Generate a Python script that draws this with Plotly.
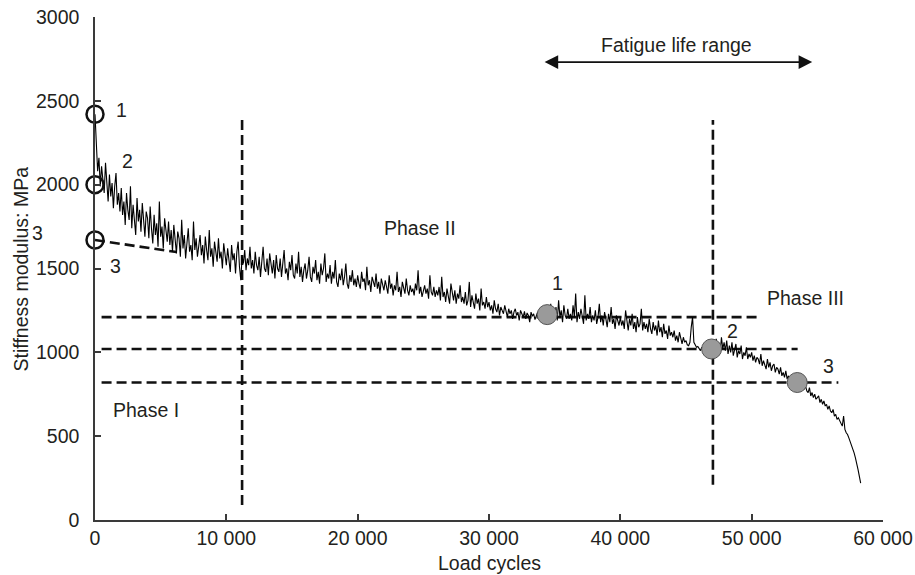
import plotly.graph_objects as go

# ---------------- data ----------------
# stiffness modulus (MPa) sampled every 100 load cycles, read off the picture
# (one row = 2000 load cycles)
stiffness = [
    2420, 2250, 2080, 2160, 1990, 2110, 2040, 1950, 2130, 1980, 1900, 2060, 1930, 2010, 1860, 1990, 2070, 1880, 1950, 1840,
    1980, 1820, 1900, 1760, 1950, 1850, 1790, 1990, 1740, 1880, 1810, 1700, 1920, 1780, 1850, 1720, 1890, 1760, 1690, 1840,
    1800, 1680, 1870, 1740, 1650, 1820, 1700, 1770, 1630, 1900, 1690, 1750, 1620, 1800, 1710, 1660, 1780, 1640, 1730, 1600,
    1760, 1650, 1590, 1720, 1680, 1570, 1790, 1620, 1700, 1560, 1660, 1740, 1600, 1640, 1550, 1780, 1610, 1680, 1570, 1650,
    1700, 1580, 1640, 1530, 1690, 1610, 1550, 1730, 1570, 1620, 1510, 1660, 1590, 1540, 1680, 1560, 1600, 1500, 1650, 1570,
    1520, 1620, 1560, 1480, 1640, 1550, 1590, 1470, 1600, 1660, 1510, 1430, 1570, 1530, 1610, 1490, 1560, 1520, 1630, 1500,
    1550, 1470, 1600, 1520, 1490, 1570, 1450, 1540, 1630, 1500, 1480, 1560, 1460, 1590, 1520, 1470, 1550, 1440, 1580, 1500,
    1480, 1560, 1450, 1520, 1610, 1470, 1500, 1430, 1540, 1490, 1580, 1460, 1440, 1530, 1470, 1600, 1450, 1510, 1420, 1490,
    1530, 1440, 1490, 1570, 1450, 1420, 1510, 1470, 1550, 1430, 1480, 1410, 1530, 1460, 1500, 1590, 1420, 1470, 1440, 1520,
    1410, 1480, 1440, 1550, 1420, 1390, 1470, 1430, 1500, 1400, 1450, 1530, 1410, 1380, 1460, 1420, 1490, 1400, 1440, 1390,
    1460, 1410, 1380, 1480, 1420, 1440, 1370, 1510, 1400, 1430, 1360, 1450, 1410, 1390, 1470, 1380, 1420, 1350, 1440, 1400,
    1370, 1430, 1390, 1350, 1460, 1380, 1410, 1340, 1400, 1370, 1480, 1360, 1390, 1330, 1420, 1380, 1350, 1440, 1370, 1340,
    1400, 1360, 1380, 1340, 1410, 1370, 1490, 1350, 1390, 1330, 1370, 1400, 1350, 1380, 1320, 1460, 1360, 1340, 1390, 1330,
    1370, 1340, 1390, 1310, 1450, 1330, 1360, 1300, 1380, 1320, 1290, 1410, 1340, 1310, 1370, 1290, 1350, 1320, 1400, 1300,
    1330, 1290, 1360, 1280, 1310, 1420, 1270, 1340, 1300, 1260, 1350, 1290, 1320, 1250, 1380, 1280, 1300, 1260, 1330, 1270,
    1300, 1250, 1280, 1230, 1310, 1260, 1240, 1290, 1220, 1270, 1250, 1230, 1280, 1240, 1210, 1260, 1230, 1250, 1200, 1240,
    1260, 1220, 1240, 1190, 1250, 1230, 1210, 1245, 1200, 1235, 1220, 1180, 1240, 1215, 1230, 1195, 1225, 1240, 1210, 1220,
    1235, 1215, 1225, 1240, 1180, 1250, 1210, 1290, 1200, 1240, 1220, 1270, 1190, 1310, 1210, 1250, 1180, 1280, 1220, 1200,
    1260, 1200, 1230, 1190, 1280, 1210, 1350, 1180, 1240, 1200, 1260, 1220, 1170, 1340, 1190, 1230, 1200, 1270, 1180, 1220,
    1190, 1250, 1170, 1210, 1290, 1180, 1220, 1160, 1240, 1200, 1150, 1230, 1180, 1270, 1170, 1200, 1140, 1220, 1190, 1160,
    1210, 1160, 1190, 1140, 1250, 1170, 1130, 1200, 1160, 1230, 1140, 1180, 1120, 1210, 1150, 1170, 1260, 1130, 1180, 1140,
    1170, 1120, 1200, 1140, 1110, 1180, 1130, 1160, 1100, 1190, 1120, 1150, 1090, 1170, 1110, 1130, 1080, 1160, 1100, 1120,
    1090, 1130, 1070, 1100, 1060, 1120, 1080, 1050, 1090, 1060, 1070, 1045, 1040, 1060, 1150, 1210, 1060, 1040, 1030, 1035,
    1025, 1010, 1030, 1015, 1020, 1005, 1015, 1000, 1025, 1020, 1030, 1060, 1010, 1080, 1030, 1050, 1000, 1090, 1020, 1060,
    1010, 1070, 990, 1040, 1000, 1060, 980, 1020, 1050, 970, 1010, 990, 1040, 960, 1000, 980, 1030, 960, 990, 970,
    1000, 950, 980, 940, 970, 960, 930, 990, 920, 950, 930, 900, 960, 910, 940, 890, 920, 930, 880, 910,
    900, 870, 910, 860, 880, 850, 890, 840, 860, 830, 850, 820, 840, 830, 810, 830, 800, 820, 790, 810,
    780, 800, 770, 760, 790, 740, 760, 730, 750, 720, 730, 740, 700, 720, 690, 710, 680, 690, 660, 680,
    650, 640, 660, 620, 630, 600, 610, 590, 580, 560, 620, 540, 520, 510, 490, 470, 450, 430, 400, 370,
    340, 300, 260, 220,
]
load_cycles = list(range(0, 58301, 100))

# open circles on the stiffness axis (initial modulus estimates 1, 2, 3)
init_cycles = [0, 0, 0]
init_stiffness = [2420, 2000, 1670]

# grey points: failure criteria 1, 2, 3
fail_cycles = [34430, 46950, 53470]
fail_stiffness = [1225, 1020, 820]

# phase boundaries (load cycles) and criteria levels (MPa)
phase_bounds = [11200, 47050]
criteria_levels = [1210, 1020, 820]
criteria_ends = [50400, 53500, 56600]

# tangent through initial modulus 3
tangent_cycles = [0, 6200]
tangent_stiffness = [1670, 1598]

x_ticks = [0, 10000, 20000, 30000, 40000, 50000, 60000]
x_tick_text = ["0", "10 000", "20 000", "30 000", "40 000", "50 000", "60 000"]
y_ticks = [0, 500, 1000, 1500, 2000, 2500, 3000]

# ---------------- figure ----------------
INK = "#231f20"
AX = "#3a3a3a"
FONT = "Liberation Sans, Arial, sans-serif"
FS = 19.5
DASH = "10px,5px"

fig = go.Figure()

# dashed guides
for xb, top, bot in zip(phase_bounds, [2385, 2385], [90, 210]):
    fig.add_trace(go.Scatter(x=[xb, xb], y=[bot, top], mode="lines",
                             line=dict(color="#111", width=2.6, dash=DASH),
                             hoverinfo="skip", showlegend=False))
for lvl, xe in zip(criteria_levels, criteria_ends):
    fig.add_trace(go.Scatter(x=[500, xe], y=[lvl, lvl], mode="lines",
                             line=dict(color="#111", width=2.6, dash=DASH),
                             hoverinfo="skip", showlegend=False))
fig.add_trace(go.Scatter(x=tangent_cycles, y=tangent_stiffness, mode="lines",
                         line=dict(color="#111", width=2.6, dash=DASH),
                         hoverinfo="skip", showlegend=False))

# stiffness curve
fig.add_trace(go.Scatter(x=load_cycles, y=stiffness, mode="lines",
                         line=dict(color="#000", width=1.1),
                         hoverinfo="skip", showlegend=False))

# markers
fig.add_trace(go.Scatter(x=init_cycles, y=init_stiffness, mode="markers",
                         marker=dict(size=17, color="rgba(0,0,0,0)",
                                     line=dict(color="#111", width=2.5)),
                         cliponaxis=False, showlegend=False))
fig.add_trace(go.Scatter(x=fail_cycles, y=fail_stiffness, mode="markers",
                         marker=dict(size=20, color="#9a9a9a",
                                     line=dict(color="#555", width=1)),
                         showlegend=False))

ann_font = dict(family=FONT, size=FS, color=INK)
labels = [
    ("1", 1980, 2445), ("2", 2437, 2141), ("3", 1523, 1515),
    ("Phase II", 24750, 1741), ("Phase III", 54070, 1324), ("Phase I", 3900, 656),
    ("1", 35190, 1413), ("2", 48510, 1127), ("3", 55830, 918),
    ("Fatigue life range", 44250, 2832),
]
for t, xx, yy in labels:
    fig.add_annotation(x=xx, y=yy, text=t, showarrow=False, font=ann_font,
                       xanchor="center", yanchor="middle")
# "3" left of the stiffness axis
fig.add_annotation(xref="paper", yref="paper", x=-0.0736, y=0.5706, text="3",
                   showarrow=False, font=ann_font, xanchor="center", yanchor="middle")

# double-headed arrow
fig.add_annotation(x=54610, y=2731, ax=34120, ay=2731, axref="x", ayref="y",
                   text="", showarrow=True, arrowside="end+start",
                   arrowhead=2, arrowsize=1.7, arrowwidth=1.6, arrowcolor="#111")

# axis titles
fig.add_annotation(xref="paper", yref="paper", x=-0.094, y=0.5,
                   text="Stiffness modulus: MPa", textangle=-90, showarrow=False,
                   font=ann_font, xanchor="center", yanchor="middle")
fig.add_annotation(xref="paper", yref="paper", x=0.5, y=-0.0855,
                   text="Load cycles", showarrow=False,
                   font=ann_font, xanchor="center", yanchor="middle")

axis_common = dict(showgrid=False, zeroline=False, showline=True,
                   linecolor=AX, linewidth=1.5, ticks="inside", ticklen=6,
                   tickwidth=1.5, tickcolor=AX, mirror=False, automargin=False,
                   ticklabeloverflow="allow",
                   tickfont=dict(family=FONT, size=FS, color=INK))
fig.update_xaxes(range=[0, 60000], tickvals=x_ticks, ticktext=x_tick_text,
                 ticklabelstandoff=0, **axis_common)
fig.update_yaxes(range=[0, 3000], tickvals=y_ticks, ticklabelstandoff=10, **axis_common)

fig.update_layout(width=915, height=575, margin=dict(l=95, r=32, t=17, b=55),
                  plot_bgcolor="white", paper_bgcolor="white", showlegend=False,
                  font=dict(family=FONT, color=INK))

fig.write_html("out.html")
